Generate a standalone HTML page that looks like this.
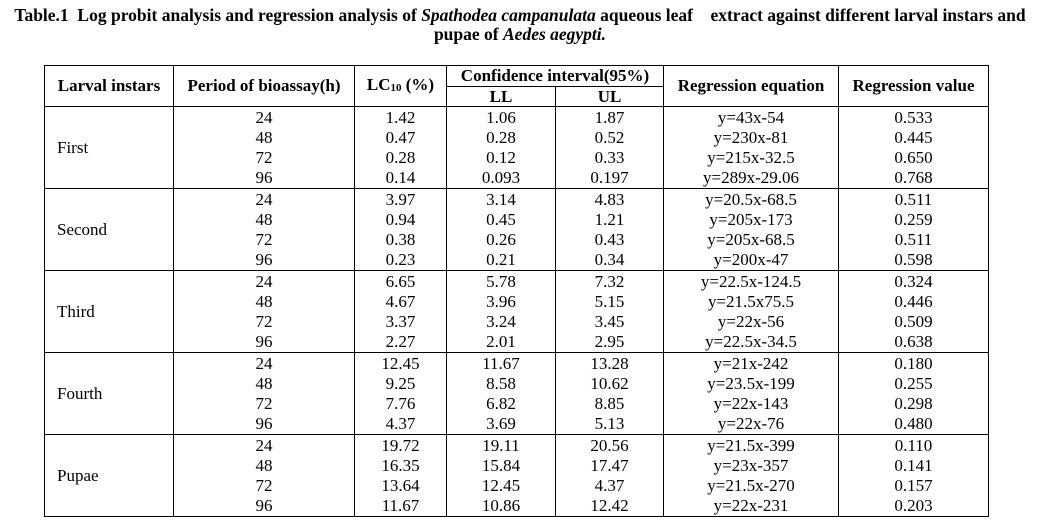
<!DOCTYPE html>
<html><head><meta charset="utf-8"><style>
body{margin:0;width:1040px;height:532px;background:#fff;font-family:"Liberation Serif",serif;color:#000;position:relative;overflow:hidden}
.t{position:absolute;left:0;width:1040px;text-align:center;font-weight:bold;font-size:17.5px;white-space:nowrap;line-height:18px}
table{position:absolute;left:44px;top:65px;border-collapse:collapse;font-size:17px;table-layout:fixed}
td,th{border:1.3px solid #000;padding:0;text-align:center;line-height:20px;vertical-align:middle;overflow:hidden;white-space:nowrap}
th{font-size:17px;font-weight:bold}
td.n{text-align:left;padding-left:12px}
tr.g{height:82px}
</style></head><body>
<div class="t" style="top:6px;">Table.1&nbsp; Log probit analysis and regression analysis of <i>Spathodea campanulata</i> aqueous leaf &nbsp;&nbsp; extract against different larval instars and</div>
<div class="t" style="top:25px;">pupae of <i>Aedes aegypti.</i></div>
<table>
<colgroup><col style="width:129px"><col style="width:181px"><col style="width:92px"><col style="width:109px"><col style="width:108px"><col style="width:175px"><col style="width:150px"></colgroup>
<tr style="height:21px"><th rowspan="2">Larval instars</th><th rowspan="2">Period of bioassay(h)</th><th rowspan="2">LC<sub style="font-size:11px;vertical-align:-1px">10</sub> (%)</th><th colspan="2" style="line-height:18px">Confidence interval(95%)</th><th rowspan="2">Regression equation</th><th rowspan="2">Regression value</th></tr>
<tr style="height:20px"><th style="line-height:18px">LL</th><th style="line-height:18px">UL</th></tr>
<tr class="g"><td class="n">First</td><td>24<br>48<br>72<br>96</td><td>1.42<br>0.47<br>0.28<br>0.14</td><td>1.06<br>0.28<br>0.12<br>0.093</td><td>1.87<br>0.52<br>0.33<br>0.197</td><td>y=43x-54<br>y=230x-81<br>y=215x-32.5<br>y=289x-29.06</td><td>0.533<br>0.445<br>0.650<br>0.768</td></tr>
<tr class="g"><td class="n">Second</td><td>24<br>48<br>72<br>96</td><td>3.97<br>0.94<br>0.38<br>0.23</td><td>3.14<br>0.45<br>0.26<br>0.21</td><td>4.83<br>1.21<br>0.43<br>0.34</td><td>y=20.5x-68.5<br>y=205x-173<br>y=205x-68.5<br>y=200x-47</td><td>0.511<br>0.259<br>0.511<br>0.598</td></tr>
<tr class="g"><td class="n">Third</td><td>24<br>48<br>72<br>96</td><td>6.65<br>4.67<br>3.37<br>2.27</td><td>5.78<br>3.96<br>3.24<br>2.01</td><td>7.32<br>5.15<br>3.45<br>2.95</td><td>y=22.5x-124.5<br>y=21.5x75.5<br>y=22x-56<br>y=22.5x-34.5</td><td>0.324<br>0.446<br>0.509<br>0.638</td></tr>
<tr class="g"><td class="n">Fourth</td><td>24<br>48<br>72<br>96</td><td>12.45<br>9.25<br>7.76<br>4.37</td><td>11.67<br>8.58<br>6.82<br>3.69</td><td>13.28<br>10.62<br>8.85<br>5.13</td><td>y=21x-242<br>y=23.5x-199<br>y=22x-143<br>y=22x-76</td><td>0.180<br>0.255<br>0.298<br>0.480</td></tr>
<tr class="g"><td class="n">Pupae</td><td>24<br>48<br>72<br>96</td><td>19.72<br>16.35<br>13.64<br>11.67</td><td>19.11<br>15.84<br>12.45<br>10.86</td><td>20.56<br>17.47<br>4.37<br>12.42</td><td>y=21.5x-399<br>y=23x-357<br>y=21.5x-270<br>y=22x-231</td><td>0.110<br>0.141<br>0.157<br>0.203</td></tr>
</table>
</body></html>
